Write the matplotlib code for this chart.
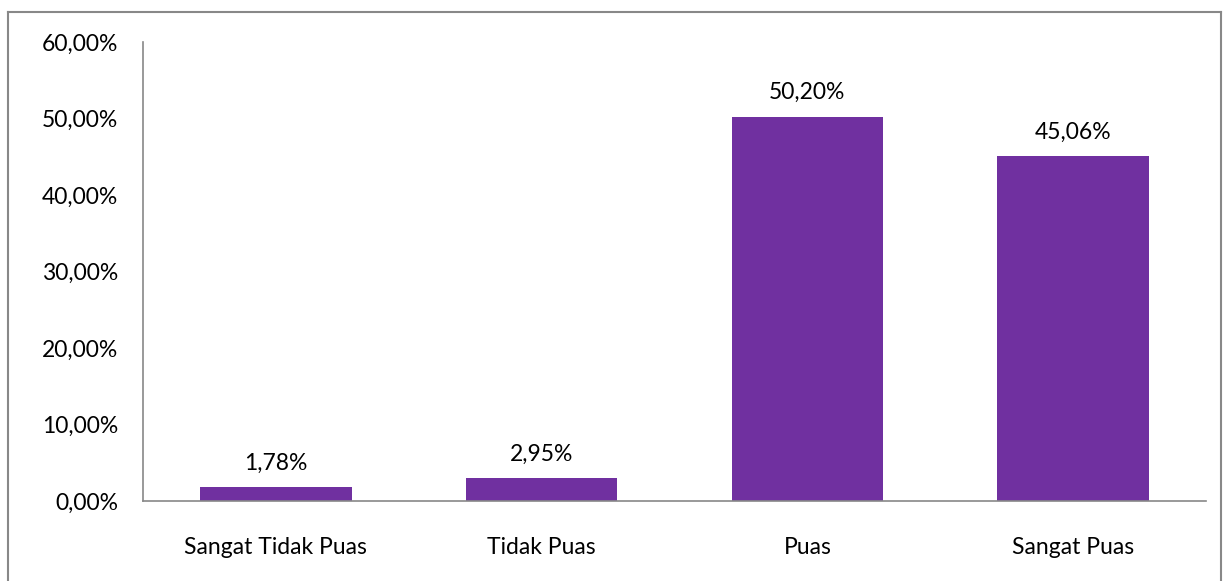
import matplotlib.pyplot as plt
from matplotlib.lines import Line2D

categories = ['Sangat Tidak Puas', 'Tidak Puas', 'Puas', 'Sangat Puas']
values = [1.78, 2.95, 50.20, 45.06]
labels = ['1,78%', '2,95%', '50,20%', '45,06%']
yticks = [0, 10, 20, 30, 40, 50, 60]

plt.rcParams['font.family'] = ['Lato', 'DejaVu Sans']
fs = 16.5

fig = plt.figure(figsize=(12.24, 5.81), dpi=100)
ax = fig.add_axes([143/1224, 1-501/581, (1206-143)/1224, (501-42)/581])

x = range(len(categories))
ax.bar(x, values, width=0.57, color='#7030A0')
for i, v in enumerate(values):
    ax.text(i, v + 1.8, labels[i], ha='center', va='bottom', fontsize=fs, color='#000000')

ax.set_xlim(-0.5, len(categories) - 0.5)
ax.set_ylim(0, 60)
ax.set_yticks(yticks)
ax.set_yticklabels(['%d,00%%' % t for t in yticks], fontsize=fs)
ax.set_xticks(list(x))
ax.set_xticklabels(categories, fontsize=fs)
ax.tick_params(axis='both', length=0)
ax.tick_params(axis='y', pad=18)
ax.tick_params(axis='x', pad=26)

for s in ['top', 'right']:
    ax.spines[s].set_visible(False)
for s in ['left', 'bottom']:
    ax.spines[s].set_color('#888888')
    ax.spines[s].set_linewidth(1.2)

# outer chart border (bottom edge is cut off in the original)
bc = '#888888'
fig.add_artist(Line2D([8/1224, 8/1224], [0, 1-12/581], color=bc, lw=1.5))
fig.add_artist(Line2D([8/1224, 1221/1224], [1-12/581, 1-12/581], color=bc, lw=1.5))
fig.add_artist(Line2D([1221/1224, 1221/1224], [0, 1-12/581], color=bc, lw=1.5))

fig.savefig('out.png', dpi=100)
